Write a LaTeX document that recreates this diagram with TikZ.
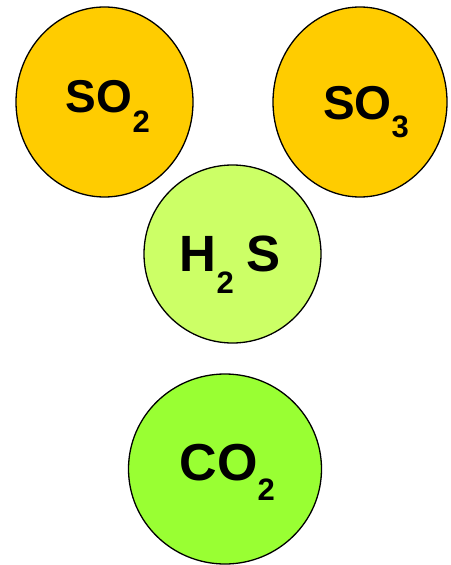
\documentclass[tikz,border=0pt]{standalone}
\usepackage{fontspec}
\setmainfont{Liberation Sans}
\definecolor{sox}{RGB}{255,204,0}
\definecolor{hs}{RGB}{204,255,102}
\definecolor{co}{RGB}{153,255,51}
\tikzset{
  ball/.style={draw=black, line width=1.3bp},
  lbl/.style={anchor=base west, inner sep=0pt, font=\bfseries},
}
\newcommand{\fs}[1]{\fontsize{#1bp}{#1bp}\selectfont\bfseries}
\begin{document}
\begin{tikzpicture}[x=1bp,y=-1bp]
\useasboundingbox (0,0) rectangle (451,565);
\fill[white] (0,0) rectangle (451,565);
\filldraw[ball, fill=sox] (104.5,102) ellipse [x radius=88.5, y radius=95];
\filldraw[ball, fill=sox] (360,102) ellipse [x radius=87, y radius=95];
\filldraw[ball, fill=hs] (232.5,254) ellipse [x radius=88.5, y radius=89];
\filldraw[ball, fill=co] (225,469) ellipse [x radius=96.5, y radius=95];
% SO2
\node[lbl] (so2a) at (65.5,113) {\fs{46}SO};
\node[lbl] (so2b) at (132.5,132.7) {\fs{31}2};
% SO3
\node[lbl] (so3a) at (323,120) {\fs{47.5}SO};
\node[lbl] (so3b) at (391.5,137.7) {\fs{31}3};
% H2S
\node[lbl] (h2sa) at (179,271.7) {\fs{51}H};
\node[lbl] (h2sb) at (216.5,293) {\fs{31}2};
\node[lbl] (h2sc) at (246.5,271.7) {\fs{51}S};
% CO2
\node[lbl] (co2a) at (179.5,480) {\fs{52}CO};
\node[lbl] (co2b) at (257.5,500.7) {\fs{31}2};
\end{tikzpicture}
\end{document}
